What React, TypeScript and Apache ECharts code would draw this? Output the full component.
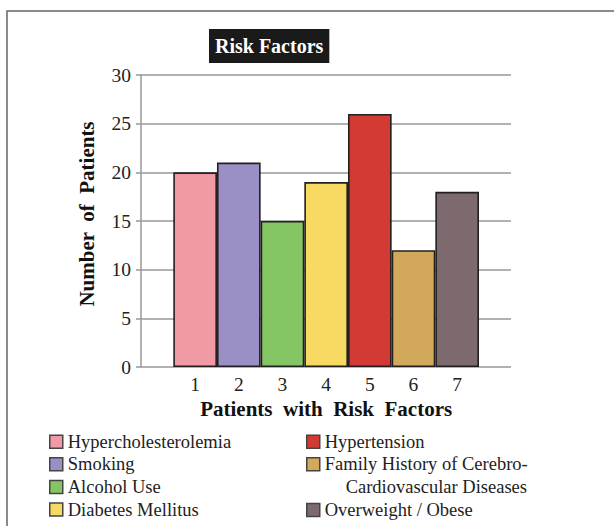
import React, { useEffect, useRef } from "react";
import * as echarts from "echarts";

const categories = ["1", "2", "3", "4", "5", "6", "7"];
const values = [20, 21, 15, 19, 26, 12, 18];
const names = [
  "Hypercholesterolemia",
  "Smoking",
  "Alcohol Use",
  "Diabetes Mellitus",
  "Hypertension",
  "Family History of Cerebro-",
  "Overweight / Obese",
];
const colors = ["#F09AA5", "#9A90C6", "#85C664", "#F8D962", "#D43A34", "#D2A85B", "#7D6A6F"];
const yTicks = [0, 5, 10, 15, 20, 25, 30];

const FONT = '"Liberation Serif", "Times New Roman", serif';

export default function App() {
  const ref = useRef<HTMLDivElement>(null);
  useEffect(() => {
    if (!ref.current) return;
    const chart = echarts.init(ref.current, undefined, { renderer: "svg" });
    const series = names.map((n, i) => ({
      name: n,
      type: "bar",
      xAxisIndex: 1,
      yAxisIndex: 1,
      stack: "all",
      barWidth: "100%",
      data: values.map((v, j) => (j === i ? v : "-")),
      itemStyle: { color: colors[i], borderColor: "#231f20", borderWidth: 1.6 },
    }));
    const legendCommon = {
      orient: "vertical",
      icon: "rect",
      itemWidth: 13,
      itemHeight: 13,
      padding: 0,
      itemGap: 3.6,
      itemStyle: { borderColor: "#444", borderWidth: 1.5 },
      textStyle: { fontFamily: FONT, fontSize: 18.5, color: "#222", lineHeight: 19 },
      selectedMode: false,
    };
    chart.setOption({
      animation: false,
      textStyle: { fontFamily: FONT },
      title: {
        text: "Risk Factors",
        left: 209,
        top: 29,
        backgroundColor: "#1a1a1a",
        padding: [7, 6, 7, 6],
        textStyle: { color: "#fff", fontFamily: FONT, fontWeight: "bold", fontSize: 20 },
      },
      graphic: [
        {
          type: "rect",
          shape: { x: 7, y: 11, width: 800, height: 700 },
          style: { fill: "none", stroke: "#666", lineWidth: 1.5 },
          silent: true,
        },
        {
          type: "text",
          x: 527,
          y: 487,
          style: {
            text: "Cardiovascular Diseases",
            fontFamily: FONT,
            fontSize: 18.5,
            fill: "#222",
            align: "right",
            verticalAlign: "middle",
          },
        },
      ],
      legend: [
        { ...legendCommon, left: 49, top: 432.2, data: names.slice(0, 4) },
        { ...legendCommon, left: 306, top: 432.2, data: names.slice(4, 6) },
        { ...legendCommon, left: 306, top: 500.5, data: names.slice(6, 7) },
      ],
      grid: [
        { left: 141, right: 614 - 511, top: 75, bottom: 526 - 367 },
        { left: 173.3, right: 614 - 479, top: 75, bottom: 526 - 367 },
      ],
      xAxis: [
        { type: "value", gridIndex: 0, show: false, min: 0, max: 1 },
        {
          type: "category",
          gridIndex: 1,
          data: categories,
          axisLine: { show: false },
          axisTick: { show: false },
          axisLabel: { fontFamily: FONT, fontSize: 19.5, color: "#222", margin: 7 },
          name: "Patients  with  Risk  Factors",
          nameLocation: "middle",
          nameGap: 30,
          nameTextStyle: { fontFamily: FONT, fontSize: 21, fontWeight: "bold", color: "#111" },
        },
      ],
      yAxis: [
        {
          type: "value",
          gridIndex: 0,
          min: 0,
          max: 30,
          interval: 5,
          axisLine: { show: true, lineStyle: { color: "#999", width: 1.5 } },
          axisTick: { show: true, length: 5, lineStyle: { color: "#999", width: 1.5 } },
          splitLine: { show: true, lineStyle: { color: "#999", width: 1.5 } },
          axisLabel: {
            fontFamily: FONT,
            fontSize: 19.5,
            color: "#222",
            margin: 10,
            formatter: (v: number) => (yTicks.includes(v) ? String(v) : ""),
          },
          name: "Number  of  Patients",
          nameLocation: "middle",
          nameGap: 43.5,
          nameTextStyle: {
            fontFamily: FONT,
            fontSize: 21,
            fontWeight: "bold",
            color: "#111",
            padding: [0, 0, 0, 14],
          },
        },
        { type: "value", gridIndex: 1, min: 0, max: 30, show: false },
      ],
      series,
    });
    return () => chart.dispose();
  }, []);
  return (
    <div
      ref={ref}
      style={{ position: "absolute", left: 0, top: 0, width: 614, height: 526, background: "#fff" }}
    />
  );
}
